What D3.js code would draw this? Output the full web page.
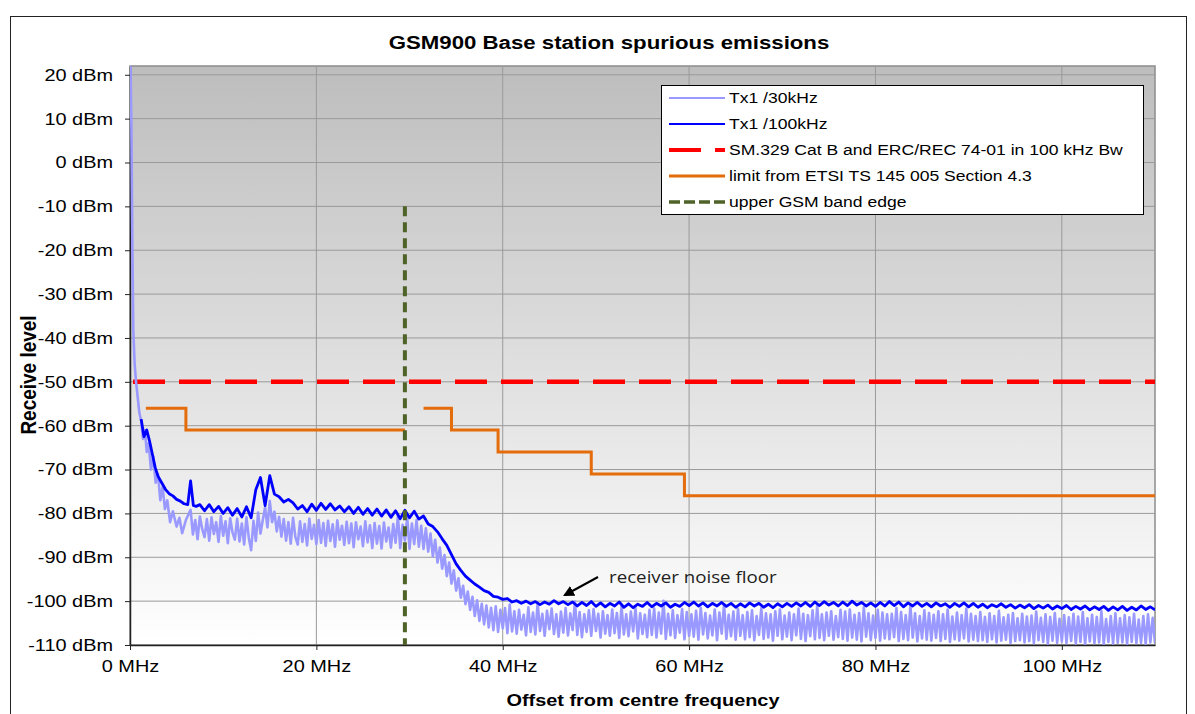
<!DOCTYPE html>
<html>
<head>
<meta charset="utf-8">
<script src="https://cdn.jsdelivr.net/npm/d3@7"></script>
<style>
	body { margin: 0; background: #fff; }
	text { font-family: "Liberation Sans", Arial, sans-serif; }
</style>
</head>
<body>
<div class="container"></div>
<script>

// ---- data ----
var yTicks = [-110, -100, -90, -80, -70, -60, -50, -40, -30, -20, -10, 0, 10, 20];
var xTicks = [0, 20, 40, 60, 80, 100];

// Tx1 /100kHz, steep start then a 0.5 MHz sweep from 7.5 MHz
var darkHeadF = [1.2, 1.5, 1.8, 2.1, 2.4, 2.7, 3.0, 3.4, 3.8, 4.2, 4.6, 5.0, 5.4, 5.8, 6.2, 6.5, 6.8, 7.1];
var darkHeadV = [-58.5, -62.5, -61, -63.5, -66.5, -69.5, -71.5, -73, -74.5, -75.5, -76, -76.8, -77.2, -77.8, -78, -72.6, -78.2, -78.4];
var darkStart = 7.5, darkStep = 0.5;
var darkV = [
	-78.0, -79.4, -78.0, -79.6, -78.4, -80.0, -78.7, -80.4, -78.9, -80.8,
	-78.5, -81.0, -74.6, -71.8, -78.2, -71.4, -75.6, -76.2, -77.4, -76.8,
	-77.6, -79.0, -78.2, -79.6, -77.9, -79.3, -77.7, -79.1, -77.8, -79.2,
	-78.3, -79.6, -78.5, -80.0, -78.6, -80.2, -78.9, -80.4, -79.0, -80.6,
	-79.2, -80.9, -79.4, -81.2, -79.3, -81.0, -79.5, -81.3, -80.6, -82.4,
	-83.0, -84.2, -85.8, -87.3, -89.4, -91.5, -93.0, -94.3, -95.2, -96.1,
	-96.8, -97.6, -98.0, -98.9, -99.1, -99.6, -99.4, -100.2, -99.9, -100.5,
	-100.0, -100.6, -100.1, -100.8, -100.2, -100.7, -99.9, -100.6, -100.1, -100.8,
	-100.2, -101.1, -100.3, -101.0, -100.1, -101.2, -100.4, -101.3, -100.5, -101.1,
	-100.2, -101.4, -100.6, -101.5, -100.7, -101.2, -100.3, -101.3, -100.5, -101.1,
	-100.4, -101.4, -100.7, -101.2, -100.3, -101.0, -100.2, -101.1, -100.4, -101.3,
	-100.5, -101.1, -100.3, -101.2, -100.5, -101.4, -100.6, -101.3, -100.4, -101.1,
	-100.5, -101.4, -100.7, -101.5, -100.6, -101.3, -100.5, -101.2, -100.4, -101.1,
	-100.3, -101.2, -100.2, -101.0, -100.1, -100.9, -100.3, -101.1, -100.2, -101.0,
	-100.0, -100.9, -100.3, -101.1, -100.4, -101.2, -100.3, -101.1, -100.1, -101.0,
	-100.2, -101.3, -100.4, -101.1, -100.3, -101.2, -100.5, -101.3, -100.4, -101.1,
	-100.6, -101.4, -100.5, -101.2, -100.4, -101.3, -100.5, -101.4, -100.7, -101.5,
	-100.8, -101.3, -100.6, -101.4, -100.8, -101.6, -100.9, -101.5, -100.8, -101.7,
	-101.0, -101.6, -100.9, -101.8, -101.1, -101.7, -101.0, -101.9, -101.2, -101.8,
	-101.1, -102.0, -101.3, -101.9, -101.2, -102.1, -101.3, -102.0, -101.2, -102.1,
	-101.4, -102.0, -101.1, -101.9, -101.3, -102.0
];

// Tx1 /30kHz, steep start then a 0.25 MHz sweep from 6.5 MHz (one row = 5 MHz)
var lightHeadF = [0.05, 0.15, 0.25, 0.35, 0.5, 0.65, 0.8, 1.0, 1.2, 1.4, 1.6, 1.8, 2.0, 2.25, 2.5, 2.75, 3.0, 3.25, 3.5, 3.75, 4.0, 4.3, 4.6, 5.0, 5.3, 5.6, 6.0];
var lightHeadV = [22, 8, -18, -38, -46, -50, -53, -57, -59, -63, -61, -66, -64, -70, -67, -73, -71, -77, -74, -79, -77, -82, -79.5, -83, -81, -84.5, -81.5];
var lightStart = 6.5, lightStep = 0.25;
var lightV = [
	-79.2, -84.8, -81.5, -85.9, -80.7, -83.6, -85.4, -81.3, -86.2, -80.9, -84.7, -82.0, -86.5, -80.6, -85.1, -81.8, -86.8, -81.1, -84.3, -86.0,
	-81.2, -86.4, -82.3, -87.1, -80.9, -85.6, -88.4, -81.7, -86.3, -79.8, -84.6, -81.5, -78.6, -83.2, -77.2, -82.0, -79.6, -84.1, -80.8, -85.3,
	-81.3, -86.2, -82.0, -86.9, -81.0, -85.4, -87.1, -81.8, -86.5, -82.4, -87.3, -81.2, -85.8, -82.6, -87.0, -81.5, -86.7, -82.2, -87.4, -81.7,
	-86.3, -82.5, -87.6, -81.6, -86.0, -82.8, -87.2, -81.9, -86.8, -82.3, -87.7, -82.0, -85.9, -83.0, -87.5, -81.8, -86.6, -82.7, -87.9, -82.2,
	-86.9, -82.9, -88.0, -82.1, -86.4, -83.2, -87.8, -82.4, -86.7, -80.6, -87.9, -82.6, -86.2, -80.9, -88.1, -82.3, -87.0, -81.5, -87.6, -82.8,
	-88.1, -83.4, -88.7, -84.6, -89.8, -86.0, -91.2, -87.8, -92.6, -89.5, -94.3, -91.2, -96.0, -93.0, -97.6, -94.8, -99.2, -96.5, -100.7, -97.8,
	-102.0, -99.0, -103.4, -99.8, -104.5, -100.6, -105.3, -101.0, -106.0, -101.5, -106.6, -101.2, -107.0, -102.0, -106.2, -101.6, -107.3, -100.8, -106.9, -102.3,
	-107.4, -102.0, -106.5, -103.1, -107.8, -101.4, -107.0, -102.6, -107.6, -100.4, -106.8, -102.9, -107.9, -102.2, -106.4, -101.7, -107.5, -103.0, -108.1, -102.4,
	-107.2, -101.6, -107.8, -102.8, -106.6, -100.1, -107.7, -102.5, -108.2, -103.0, -107.0, -102.1, -107.9, -101.8, -106.8, -102.9, -108.3, -102.3, -107.4, -103.2,
	-107.9, -101.9, -107.3, -102.7, -108.4, -101.2, -107.6, -103.0, -108.0, -102.4, -106.9, -101.6, -108.5, -102.8, -107.5, -103.1, -108.2, -102.0, -107.7, -101.7,
	-108.3, -102.6, -107.4, -99.9, -108.6, -102.9, -107.8, -102.1, -108.4, -103.2, -107.2, -101.8, -108.7, -102.5, -107.9, -103.0, -108.1, -102.2, -108.8, -101.5,
	-107.6, -102.7, -108.5, -103.3, -107.8, -101.9, -108.9, -102.6, -107.4, -100.7, -108.6, -103.1, -108.0, -102.4, -108.8, -101.8, -107.9, -103.2, -108.7, -102.5,
	-108.2, -102.1, -108.9, -103.4, -107.7, -101.6, -108.6, -102.8, -108.3, -103.0, -109.0, -102.3, -107.9, -101.9, -108.7, -103.3, -108.1, -102.6, -108.9, -103.0,
	-107.8, -101.7, -108.6, -102.9, -109.1, -103.2, -108.0, -102.1, -108.7, -101.1, -108.4, -103.0, -108.9, -102.6, -107.9, -102.3, -108.8, -103.4, -108.2, -102.0,
	-108.6, -102.4, -109.0, -101.9, -108.3, -103.1, -108.8, -102.7, -109.2, -101.4, -108.1, -102.8, -108.9, -103.3, -108.4, -102.0, -109.0, -102.6, -108.5, -103.0,
	-108.7, -102.9, -108.2, -101.6, -109.1, -102.5, -108.6, -103.2, -108.9, -101.0, -108.3, -102.8, -109.2, -103.4, -108.5, -102.1, -108.8, -102.7, -109.0, -103.1,
	-108.4, -102.3, -109.1, -103.0, -108.6, -101.9, -109.3, -103.5, -108.7, -102.6, -109.0, -103.2, -108.5, -101.7, -109.2, -102.9, -108.8, -103.4, -109.1, -102.5,
	-108.9, -103.6, -109.3, -102.8, -108.7, -103.4, -109.4, -102.2, -109.0, -103.7, -108.8, -103.1, -109.5, -102.7, -109.1, -103.9, -108.9, -102.9, -109.4, -103.5,
	-109.1, -103.3, -109.6, -102.4, -108.9, -103.8, -109.3, -103.0, -109.7, -103.6, -109.0, -102.7, -109.5, -104.0, -109.2, -103.2, -109.6, -103.7, -109.1, -102.9,
	-109.7, -103.5, -109.3, -102.5, -109.8, -103.9, -109.2, -103.1, -109.6, -103.6, -109.4, -102.3, -109.8, -104.1, -109.3, -103.4, -109.7, -102.8, -109.5, -103.9,
	-109.4, -103.2, -109.8, -103.7, -109.3, -102.9, -109.6, -104.2, -109.5, -103.4, -109.8, -103.0, -109.4, -103.8, -109.6
];

// limits
var smLimit = -50;
var etsiF1 = [1.7, 6, 6, 29.5];
var etsiV1 = [-56, -56, -61, -61];
var etsiF2 = [31.5, 34.5, 34.5, 39.5, 39.5, 49.5, 49.5, 59.5, 59.5, 110];
var etsiV2 = [-56, -56, -61, -61, -66, -66, -71, -71, -76, -76];
var bandEdgeF = 29.5;
var bandEdgeV = [-10, -110];

var legendNames = ["Tx1 /30kHz", "Tx1 /100kHz", "SM.329 Cat B and ERC/REC 74-01 in 100 kHz Bw",
	"limit from ETSI TS 145 005 Section 4.3", "upper GSM band edge"];

// ---- drawing ----
var W = 1195, H = 714;
var SX = 1.17; // the picture's lettering is a bit wide
var svg = d3.select(".container").append("svg").attr("width", W).attr("height", H);

var x = d3.scaleLinear().domain([0, 110]).range([130, 1155]);
var y = d3.scaleLinear().domain([-110, 22]).range([645, 66]);

function zip(fs, vs) { return fs.map(function (f, i) { return [f, vs[i]]; }); }
function sweep(start, step, vs) { return vs.map(function (v, i) { return [start + i * step, v]; }); }

var lightPts = zip(lightHeadF, lightHeadV).concat(sweep(lightStart, lightStep, lightV));
var darkPts = zip(darkHeadF, darkHeadV).concat(sweep(darkStart, darkStep, darkV));

function wideText(g, tx, ty, str, size, extra) {
	return g.append("text").attr("transform", "translate(" + tx + "," + ty + ") scale(" + SX + ",1)" + (extra || ""))
		.style("font-size", size + "px").text(str);
}

svg.append("rect").attr("x", 10.5).attr("y", 16.5).attr("width", 1176).attr("height", 720)
	.attr("fill", "#fff").attr("stroke", "#222").attr("stroke-width", 1);

var defs = svg.append("defs");
var grad = defs.append("linearGradient").attr("id", "bg").attr("x1", 0).attr("y1", 0).attr("x2", 0).attr("y2", 1);
grad.append("stop").attr("offset", "0%").attr("stop-color", "#bdbdbd");
grad.append("stop").attr("offset", "100%").attr("stop-color", "#ffffff");
defs.append("clipPath").attr("id", "clip").append("rect")
	.attr("x", x(0)).attr("y", y(22)).attr("width", x(110) - x(0)).attr("height", y(-110) - y(22));
defs.append("marker").attr("id", "arrow").attr("viewBox", "0 0 10 10")
	.attr("refX", 8).attr("refY", 5).attr("markerWidth", 5.5).attr("markerHeight", 5.5).attr("orient", "auto")
	.append("path").attr("d", "M0,0L10,5L0,10z").attr("fill", "#000");

svg.append("rect").attr("x", x(0)).attr("y", y(22)).attr("width", x(110) - x(0)).attr("height", y(-110) - y(22))
	.attr("fill", "url(#bg)").attr("stroke", "#8c8c8c").attr("stroke-width", 1.5);

// grid
svg.append("g").selectAll("line").data(yTicks).join("line")
	.attr("x1", x(0)).attr("x2", x(110)).attr("y1", d => y(d)).attr("y2", d => y(d))
	.attr("stroke", "#9a9a9a").attr("stroke-width", 1);
svg.append("g").selectAll("line").data(xTicks.slice(1)).join("line")
	.attr("x1", d => x(d)).attr("x2", d => x(d)).attr("y1", y(22)).attr("y2", y(-110))
	.attr("stroke", "#9a9a9a").attr("stroke-width", 1);

// axes
var yAxis = svg.append("g").attr("transform", "translate(" + x(0) + ",0)")
	.call(d3.axisLeft(y).tickValues(yTicks).tickSize(5).tickSizeOuter(0).tickFormat(d => d + " dBm"));
var xAxis = svg.append("g").attr("transform", "translate(0," + y(-110) + ")")
	.call(d3.axisBottom(x).tickValues(xTicks).tickSize(5).tickSizeOuter(0).tickFormat(d => d + " MHz"));
[yAxis, xAxis].forEach(function (g) {
	g.selectAll("text").style("font-size", "17px").attr("fill", "#000")
		.style("font-family", "'Liberation Sans', Arial, sans-serif");
	g.selectAll("line").attr("stroke", "#222");
	g.select(".domain").attr("stroke", "#222").attr("stroke-width", 1.5);
});
yAxis.selectAll("text").attr("x", 0).attr("transform", "translate(-17,0) scale(" + SX + ",1)");
xAxis.selectAll("text").attr("y", 0).attr("transform", "translate(0,15) scale(" + SX + ",1)");

var plot = svg.append("g").attr("clip-path", "url(#clip)");
var line = d3.line().x(d => x(d[0])).y(d => y(d[1]));

// red SM.329 limit
plot.append("path").datum([[0, smLimit], [110, smLimit]]).attr("d", line)
	.attr("fill", "none").attr("stroke", "#ff0000").attr("stroke-width", 4.5)
	.attr("stroke-dasharray", "32,14").attr("stroke-dashoffset", -3);

// orange ETSI limit
[zip(etsiF1, etsiV1), zip(etsiF2, etsiV2)].forEach(function (seg) {
	plot.append("path").datum(seg).attr("d", line)
		.attr("fill", "none").attr("stroke", "#e46c0a").attr("stroke-width", 3);
});

// measured traces
plot.append("path").datum(lightPts).attr("d", line)
	.attr("fill", "none").attr("stroke", "#9999ff").attr("stroke-width", 2.6).attr("stroke-linejoin", "round");
plot.append("path").datum(darkPts).attr("d", line)
	.attr("fill", "none").attr("stroke", "#0000ff").attr("stroke-width", 2.8).attr("stroke-linejoin", "round");

// band edge
plot.append("path").datum([[bandEdgeF, bandEdgeV[0]], [bandEdgeF, bandEdgeV[1]]]).attr("d", line)
	.attr("fill", "none").attr("stroke", "#4f6228").attr("stroke-width", 4)
	.attr("stroke-dasharray", "10,6");

// annotation
svg.append("line").attr("x1", 598).attr("y1", 577).attr("x2", 565).attr("y2", 595)
	.attr("stroke", "#000").attr("stroke-width", 2).attr("marker-end", "url(#arrow)");
wideText(svg, 609, 583, "receiver noise floor", 16)
	.style("font-family", "'Open Sans', sans-serif").attr("fill", "#222");

// legend
var lg = svg.append("g");
lg.append("rect").attr("x", 661.5).attr("y", 85.5).attr("width", 482).attr("height", 129)
	.attr("fill", "#fff").attr("stroke", "#000").attr("stroke-width", 1);
var legendStyle = [
	{ c: "#9999ff", w: 2, dash: null },
	{ c: "#0000ff", w: 2, dash: null },
	{ c: "#ff0000", w: 4, dash: "32,14" },
	{ c: "#e46c0a", w: 3, dash: null },
	{ c: "#4f6228", w: 3.5, dash: "11,4" }
];
legendNames.forEach(function (name, i) {
	var ly = 98 + i * 26;
	var s = legendStyle[i];
	lg.append("line").attr("x1", 669).attr("x2", 725).attr("y1", ly).attr("y2", ly)
		.attr("stroke", s.c).attr("stroke-width", s.w).attr("stroke-dasharray", s.dash);
	wideText(lg, 729, ly + 5, name, 15).attr("fill", "#000");
});

// titles
wideText(svg, 609, 49, "GSM900 Base station spurious emissions", 19)
	.attr("text-anchor", "middle").style("font-weight", "bold");
wideText(svg, 643, 706, "Offset from centre frequency", 17)
	.attr("text-anchor", "middle").style("font-weight", "bold");
wideText(svg, 36, 375, "Receive level", 19, " rotate(-90)")
	.attr("text-anchor", "middle").style("font-weight", "bold");

</script>
</body>
</html>
